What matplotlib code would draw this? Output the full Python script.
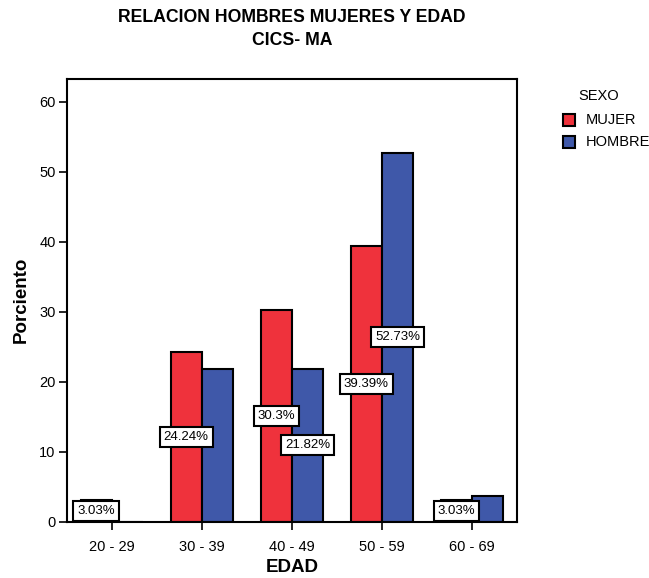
import numpy as np
import matplotlib
matplotlib.use('Agg')
import matplotlib.pyplot as plt
from matplotlib.patches import Rectangle

plt.rcParams['font.family'] = ['Liberation Sans', 'DejaVu Sans']

edades = ['20 - 29', '30 - 39', '40 - 49', '50 - 59', '60 - 69']
mujer = [3.03, 24.24, 30.30, 39.39, 3.03]
hombre = [0.0, 21.82, 21.82, 52.73, 3.64]
# which bars carry a value label (as in the original)
etiqueta_mujer = [True, True, True, True, True]
etiqueta_hombre = [False, False, True, True, False]

color_mujer = '#EF323C'
color_hombre = '#3F58A9'

fig = plt.figure(figsize=(6.49, 5.78), dpi=100)
ax = fig.add_axes([0.1028, 0.0976, 0.6938, 0.7657])

x = np.arange(len(edades))
w = 0.345
bm = ax.bar(x - w / 2, mujer, w, color=color_mujer, edgecolor='black', linewidth=1.5, zorder=2)
bh = ax.bar(x + w / 2, hombre, w, color=color_hombre, edgecolor='black', linewidth=1.5, zorder=2)

caja = dict(boxstyle='square,pad=0.3', fc='white', ec='black', lw=1.5)
for i in range(len(edades)):
    if etiqueta_mujer[i]:
        ax.text(x[i] - w / 2, mujer[i] / 2, '%g%%' % mujer[i], ha='center', va='center',
                fontsize=9.5, bbox=caja, zorder=5)
    if etiqueta_hombre[i]:
        ax.text(x[i] + w / 2, hombre[i] / 2, '%g%%' % hombre[i], ha='center', va='center',
                fontsize=9.5, bbox=caja, zorder=5)

ax.set_xlim(-0.5, 4.5)
ax.set_ylim(0, 63.25)
ax.set_xticks(x)
ax.set_xticklabels(edades, fontsize=10.5)
ax.set_yticks(range(0, 61, 10))
ax.tick_params(axis='y', labelsize=10.5, length=6, width=1.2, pad=2)
ax.tick_params(axis='x', length=6, width=1.2, pad=7)
for s in ax.spines.values():
    s.set_linewidth(1.5)

ax.set_xlabel('EDAD', fontsize=13.5, fontweight='bold', labelpad=4)
ax.set_ylabel('Porciento', fontsize=13.5, fontweight='bold', labelpad=7)

fig.text(0.45, 0.95, 'RELACION HOMBRES MUJERES Y EDAD\nCICS- MA', ha='center', va='center',
         fontsize=12.7, fontweight='bold', linespacing=1.45)

# legend
fig.text(578 / 649, 1 - 96 / 578, 'SEXO', fontsize=10.5, va='center', ha='left')
for j, (nombre, c) in enumerate([('MUJER', color_mujer), ('HOMBRE', color_hombre)]):
    yc = 1 - (120 + 22 * j) / 578
    fig.patches.append(Rectangle((563 / 649, yc - 6 / 578), 12 / 649, 12 / 578,
                                 transform=fig.transFigure, fc=c, ec='black', lw=1.5))
    fig.text(586 / 649, yc, nombre, fontsize=10.5, va='center', ha='left')

fig.savefig('out.png', dpi=100)
